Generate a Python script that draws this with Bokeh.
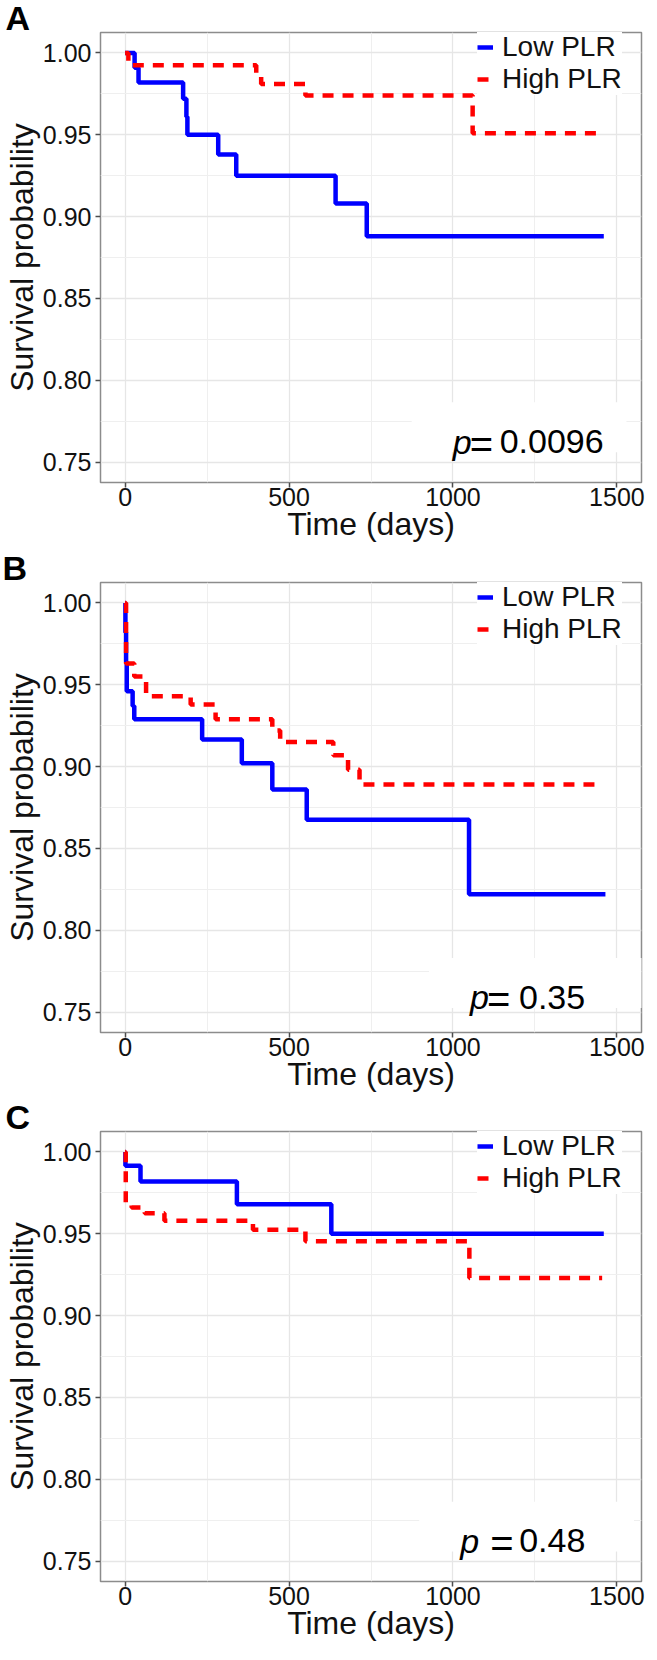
from bokeh.plotting import figure
from bokeh.models import (FixedTicker, NumeralTickFormatter, Legend, LegendItem,
                          Label, Range1d, BoxAnnotation)
from bokeh.layouts import column
from bokeh.embed import file_html
from bokeh.resources import INLINE

# ---------------- data ----------------
panel_letters = ["A", "B", "C"]
group_names = ["Low PLR", "High PLR"]
p_values = ["0.0096", "0.35", "0.48"]

x_major = [0, 500, 1000, 1500]
x_minor = [250, 750, 1250]
y_major = [0.75, 0.80, 0.85, 0.90, 0.95, 1.00]
y_minor = [0.775, 0.825, 0.875, 0.925, 0.975]

# Panel A
a_low_t = [0, 29, 41, 177, 187, 190, 284, 339, 642, 737, 1460]
a_low_s = [1.000, 0.991, 0.982, 0.972, 0.961, 0.950, 0.938, 0.925, 0.908, 0.888, 0.888]
a_high_t = [0, 10, 400, 415, 550, 1060, 1455]
a_high_s = [1.000, 0.9925, 0.987, 0.981, 0.974, 0.951, 0.951]

# Panel B
b_low_t = [0, 1, 3, 5, 23, 28, 235, 356, 449, 554, 1049, 1465]
b_low_s = [1.000, 0.982, 0.964, 0.946, 0.937, 0.929, 0.9165, 0.902, 0.886, 0.8675, 0.822, 0.822]
b_high_t = [0, 3, 28, 64, 200, 276, 449, 473, 635, 680, 715, 1445]
b_high_s = [1.000, 0.963, 0.955, 0.943, 0.938, 0.929, 0.922, 0.915, 0.907, 0.898, 0.889, 0.889]

# Panel C
c_low_t = [0, 1, 47, 341, 629, 1460]
c_low_s = [1.000, 0.9915, 0.982, 0.968, 0.950, 0.950]
c_high_t = [0, 2, 20, 60, 120, 390, 550, 1050, 1455]
c_high_s = [1.000, 0.969, 0.966, 0.9625, 0.958, 0.9525, 0.9455, 0.923, 0.923]

FONT = "Liberation Sans"


def make_panel(letter, low_t, low_s, high_t, high_s, pval,
               border_left, border_right, border_bottom,
               p_x, p_y, eq_off, num_off):
    p = figure(frame_width=541, frame_height=450,
               x_range=Range1d(-75, 1575), y_range=Range1d(0.7375, 1.0125),
               output_backend="svg", toolbar_location=None,
               min_border_left=border_left, min_border_right=border_right,
               min_border_top=31, min_border_bottom=border_bottom,
               background_fill_color="white", border_fill_color="white")
    p.outline_line_color = "#8c8c8c"
    p.outline_line_width = 1.5

    # panel letter as left-aligned title
    p.title.text = letter
    p.title.align = "left"
    p.title.offset = -border_left
    p.title.standoff = -8
    p.title.vertical_align = "bottom"
    p.title.text_font = FONT
    p.title.text_font_size = "34px"
    p.title.text_font_style = "bold"
    p.title.text_color = "black"

    p.xaxis.ticker = FixedTicker(ticks=x_major, minor_ticks=x_minor)
    p.yaxis.ticker = FixedTicker(ticks=y_major, minor_ticks=y_minor)
    p.yaxis.formatter = NumeralTickFormatter(format="0.00")
    p.xaxis.axis_label = "Time (days)"
    p.yaxis.axis_label = "Survival probability"
    for ax in (p.xaxis[0], p.yaxis[0]):
        ax.axis_line_color = None
        ax.major_tick_line_color = "#4d4d4d"
        ax.major_tick_line_width = 1.5
        ax.major_tick_out = 5
        ax.major_tick_in = 0
        ax.minor_tick_line_color = None
        ax.major_label_text_font = FONT
        ax.major_label_text_font_size = "25px"
        ax.major_label_text_color = "#111111"
        ax.axis_label_text_font = FONT
        ax.axis_label_text_font_size = "32px"
        ax.axis_label_text_font_style = "normal"
        ax.axis_label_text_color = "#111111"
    p.xaxis.major_label_standoff = 0
    p.yaxis.major_label_standoff = 4
    p.xaxis.axis_label_standoff = -3
    p.yaxis.axis_label_standoff = 0

    for g in (p.xgrid[0], p.ygrid[0]):
        g.grid_line_color = "#e6e6e6"
        g.grid_line_width = 1.3
        g.minor_grid_line_color = "#efefef"
        g.minor_grid_line_width = 1.0

    # white patch behind the p-value (as in the reference)
    p.add_layout(BoxAnnotation(left=p_x - 125, right=p_x + 530,
                               bottom=p_y - 0.0065, top=p_y + 0.024,
                               fill_color="white", fill_alpha=1.0,
                               line_color=None, level="underlay"))

    r_low = p.step(low_t, low_s, mode="after", line_color="#0000ff",
                   line_width=4.5)
    r_high = p.step(high_t, high_s, mode="after", line_color="#ff0000",
                    line_width=4.5, line_dash="11 9")

    legend = Legend(items=[LegendItem(label=group_names[0], renderers=[r_low]),
                           LegendItem(label=group_names[1], renderers=[r_high])],
                    location=(377, 387), glyph_width=16, glyph_height=20,
                    label_standoff=9, label_height=20, spacing=-5, padding=2,
                    margin=0, border_line_color=None,
                    background_fill_color="white", background_fill_alpha=1.0,
                    label_text_font=FONT, label_text_font_size="28px",
                    label_text_color="#111111")
    p.add_layout(legend)

    p.add_layout(Label(x=p_x, y=p_y, text="p", text_font=FONT,
                       text_font_size="34px", text_font_style="italic",
                       text_color="black", text_baseline="alphabetic"))
    p.add_layout(Label(x=p_x, y=p_y, x_offset=eq_off, y_offset=-2, text="=",
                       text_font=FONT, text_font_size="40px",
                       text_color="black", text_baseline="alphabetic"))
    p.add_layout(Label(x=p_x, y=p_y, x_offset=num_off, text=pval,
                       text_font=FONT, text_font_size="34px",
                       text_color="black", text_baseline="alphabetic"))
    return p


pA = make_panel(panel_letters[0], a_low_t, a_low_s, a_high_t, a_high_s,
                p_values[0], 95, 9, 68, 999, 0.7625, 17, 47)
pB = make_panel(panel_letters[1], b_low_t, b_low_s, b_high_t, b_high_s,
                p_values[1], 98, 6, 67, 1052, 0.759, 17, 49)
pC = make_panel(panel_letters[2], c_low_t, c_low_s, c_high_t, c_high_s,
                p_values[2], 95, 9, 63, 1022, 0.7623, 30, 59)

layout = column(pA, pB, pC, spacing=0)
open("out.html", "w").write(file_html(layout, INLINE))
